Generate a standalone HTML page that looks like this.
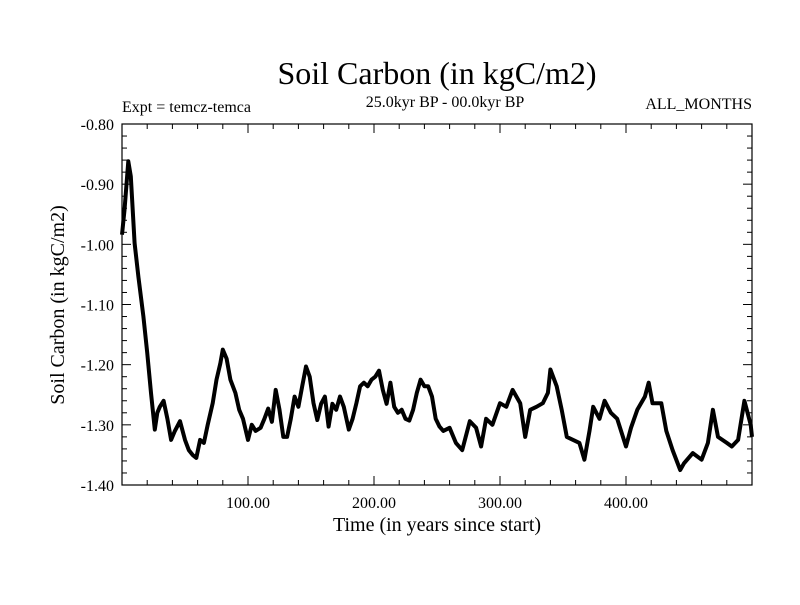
<!DOCTYPE html>
<html><head><meta charset="utf-8"><style>
body{margin:0;background:#fff;}
svg text{font-family:"Liberation Serif",serif;fill:#000;}
</style></head><body>
<svg id="chart" width="800" height="600" xmlns="http://www.w3.org/2000/svg">
<rect width="800" height="600" fill="#fff"/>
<text x="437" y="84" font-size="32" text-anchor="middle">Soil Carbon (in kgC/m2)</text>
<text x="445" y="107" font-size="16" text-anchor="middle">25.0kyr BP - 00.0kyr BP</text>
<text x="122" y="112" font-size="16">Expt = temcz-temca</text>
<text x="752" y="109" font-size="16" text-anchor="end">ALL_MONTHS</text>
<text x="437" y="531" font-size="20" text-anchor="middle">Time (in years since start)</text>
<text transform="translate(64,305) rotate(-90)" font-size="20" text-anchor="middle">Soil Carbon (in kgC/m2)</text>
<g id="axes"></g>
<path id="series" fill="none" stroke="#000" stroke-width="4" stroke-linejoin="round"/>
<rect x="122" y="124" width="630" height="361" fill="none" stroke="#000" stroke-width="1.2"/>
</svg>
<script>
const years=[0,2,5,7,10,13,17,20,23,26,28,30,33,36,39,42,46,50,53,56,59,62,65,68,72,75,78,80,83,86,90,93,96,100,103,106,110,113,116,119,122,125,128,131,134,137,140,143,146,149,152,155,158,161,164,167,170,173,176,180,183,186,189,192,195,198,201,204,207,210,213,216,219,222,225,228,231,234,237,240,243,246,249,252,255,260,265,270,276,281,285,289,294,300,305,310,316,320,324,329,334,338,340,345,349,353,358,363,367,371,374,379,383,388,393,400,404,409,415,418,421,428,432,437,443,446,453,460,465,469,473,480,484,489,494,499,500];
const carbon=[-0.984,-0.943,-0.862,-0.887,-0.998,-1.054,-1.12,-1.18,-1.247,-1.308,-1.28,-1.27,-1.26,-1.29,-1.325,-1.31,-1.294,-1.325,-1.342,-1.35,-1.355,-1.325,-1.33,-1.3,-1.264,-1.225,-1.198,-1.175,-1.19,-1.225,-1.247,-1.275,-1.29,-1.325,-1.3,-1.31,-1.305,-1.29,-1.273,-1.295,-1.242,-1.275,-1.32,-1.32,-1.29,-1.253,-1.27,-1.236,-1.203,-1.22,-1.264,-1.292,-1.265,-1.253,-1.303,-1.265,-1.275,-1.253,-1.27,-1.308,-1.29,-1.264,-1.236,-1.23,-1.236,-1.225,-1.22,-1.21,-1.242,-1.265,-1.23,-1.27,-1.28,-1.275,-1.29,-1.293,-1.275,-1.247,-1.225,-1.236,-1.236,-1.253,-1.29,-1.303,-1.31,-1.305,-1.33,-1.342,-1.294,-1.305,-1.336,-1.29,-1.3,-1.264,-1.27,-1.242,-1.264,-1.32,-1.275,-1.27,-1.264,-1.247,-1.208,-1.236,-1.275,-1.32,-1.325,-1.33,-1.358,-1.31,-1.27,-1.29,-1.26,-1.28,-1.29,-1.336,-1.305,-1.275,-1.253,-1.23,-1.264,-1.264,-1.31,-1.342,-1.375,-1.364,-1.347,-1.358,-1.33,-1.275,-1.32,-1.33,-1.336,-1.325,-1.26,-1.3,-1.32];
const xTicks=[100,200,300,400];
const xTickLabels=["100.00","200.00","300.00","400.00"];
const yTicks=[-0.8,-0.9,-1.0,-1.1,-1.2,-1.3,-1.4];
const yTickLabels=["-0.80","-0.90","-1.00","-1.10","-1.20","-1.30","-1.40"];
const X0=122,X1=752,Y0=124,Y1=485,xmin=0,xmax=500,ymin=-1.4,ymax=-0.8;
const sx=v=>X0+(v-xmin)/(xmax-xmin)*(X1-X0);
const sy=v=>Y1-(v-ymin)/(ymax-ymin)*(Y1-Y0);
const NS="http://www.w3.org/2000/svg";
const g=document.getElementById('axes');
function ln(x1,y1,x2,y2,name){const l=document.createElementNS(NS,'line');
l.setAttribute('x1',x1);l.setAttribute('y1',y1);l.setAttribute('x2',x2);l.setAttribute('y2',y2);
l.setAttribute('stroke','#000');l.setAttribute('stroke-width','1');


g.appendChild(l);}
for(let v=20;v<500;v+=20){const x=sx(v);const major=v%100===0;const L=major?9:5;
ln(x,Y1,x,Y1-L,'x-tick');ln(x,Y0,x,Y0+L,'x-tick-top');}
for(let i=1;i<30;i++){const v=-1.4+i*0.02;const y=sy(v);const major=i%5===0;const L=major?9:5;
ln(X0,y,X0+L,y,'y-tick');ln(X1,y,X1-L,y,'y-tick-right');}
xTicks.forEach((v,i)=>{const t=document.createElementNS(NS,'text');
t.setAttribute('x',sx(v));t.setAttribute('y',Y1+23);t.setAttribute('font-size','16');t.setAttribute('text-anchor','middle');
t.textContent=xTickLabels[i];


g.appendChild(t);});
yTicks.forEach((v,i)=>{const t=document.createElementNS(NS,'text');
t.setAttribute('x',X0-8);t.setAttribute('y',sy(v)+6);t.setAttribute('font-size','16');t.setAttribute('text-anchor','end');
t.textContent=yTickLabels[i];


g.appendChild(t);});
document.getElementById('series').setAttribute('d',years.map((v,i)=>(i?'L':'M')+sx(v).toFixed(1)+','+sy(carbon[i]).toFixed(1)).join(''));
</script>
</body></html>
